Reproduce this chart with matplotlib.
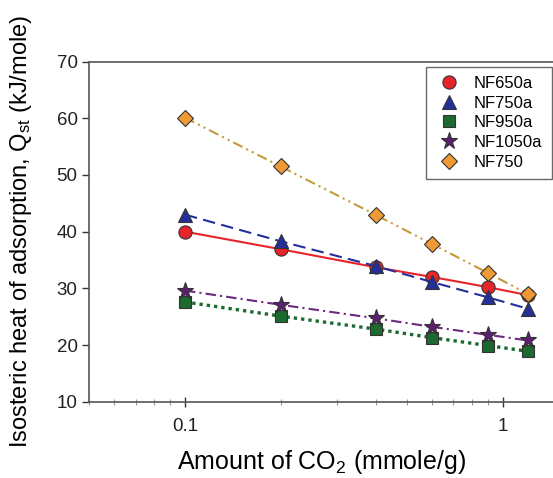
import matplotlib.pyplot as plt
from matplotlib.ticker import LogLocator, NullFormatter, FixedLocator, FixedFormatter

plt.rcParams["font.family"] = ["Liberation Sans", "DejaVu Sans"]
plt.rcParams["mathtext.fontset"] = "custom"
plt.rcParams["mathtext.rm"] = "Liberation Sans"
plt.rcParams["mathtext.it"] = "Liberation Sans:italic"

# CO2 uptake (mmole/g)
amount = [0.1, 0.2, 0.4, 0.6, 0.9, 1.2]

# isosteric heat of adsorption (kJ/mole)
nf650a = [40.0, 36.9, 33.7, 32.0, 30.2, 28.8]
nf750a = [43.0, 38.3, 33.9, 31.1, 28.4, 26.4]
nf950a = [27.6, 25.1, 22.8, 21.3, 19.9, 18.9]
nf1050a = [29.6, 27.1, 24.7, 23.2, 21.8, 20.8]
nf750 = [60.1, 51.5, 42.9, 37.8, 32.7, 29.0]

series = [
    ("NF650a", nf650a, "o", "#e8242b", "#e8242b", "-"),
    ("NF750a", nf750a, "^", "#23309a", "#23309a", (0, (6, 3))),
    ("NF950a", nf950a, "s", "#1c6a2f", "#1c6a2f", (0, (1, 1.2))),
    ("NF1050a", nf1050a, "*", "#5c1f70", "#6a2a80", (0, (5, 2, 1, 2))),
    ("NF750", nf750, "D", "#f09a35", "#c59a3c", (0, (5, 2, 1, 2, 1, 2))),
]
marker_sizes = {"o": 9.5, "^": 9.5, "s": 8.5, "*": 12.5, "D": 8}


def main():
    fig = plt.figure(figsize=(5.53, 4.78), dpi=100)
    ax = fig.add_axes([0.1615, 0.1596, 0.8385, 0.7116])

    for label, y, marker, mcolor, lcolor, ls in series:
        lw = 2.4 if label == "NF950a" else 1.5
        ax.plot(amount, y, color=lcolor, linestyle=ls, linewidth=lw)
        ax.plot(amount, y, linestyle="none", marker=marker,
                markersize=marker_sizes[marker],
                markerfacecolor=mcolor, markeredgecolor="#333333",
                markeredgewidth=0.8, label=label)

    ax.set_xscale("log")
    ax.set_xlim(0.05, 1.44)
    ax.set_ylim(10, 70)
    ax.xaxis.set_major_locator(FixedLocator([0.1, 1]))
    ax.xaxis.set_major_formatter(FixedFormatter(["0.1", "1"]))
    ax.xaxis.set_minor_locator(LogLocator(base=10, subs=range(2, 10)))
    ax.xaxis.set_minor_formatter(NullFormatter())
    ax.set_yticks([10, 20, 30, 40, 50, 60, 70])

    ax.tick_params(axis="x", which="major", direction="inout", length=7,
                   width=1, labelsize=13.5, pad=8, colors="#333333")
    ax.tick_params(axis="x", which="minor", direction="inout", length=5,
                   width=0.8, colors="#999999")
    ax.tick_params(axis="y", direction="out", length=5, width=1,
                   labelsize=13.5, colors="#333333")
    for lbl in ax.get_xticklabels() + ax.get_yticklabels():
        lbl.set_color("#222222")

    for side in ["left", "bottom", "top"]:
        ax.spines[side].set_color("#555555")
        ax.spines[side].set_linewidth(1.2)
    ax.spines["right"].set_visible(False)

    ax.set_xlabel("Amount of CO$_2$ (mmole/g)", fontsize=18)
    ax.xaxis.set_label_coords(0.5, -0.135)
    ax.set_ylabel("Isosteric heat of adsorption, Q$_\\mathrm{st}$ (kJ/mole)",
                  fontsize=17)
    ax.yaxis.set_label_coords(-0.119, 0.5)

    leg = ax.legend(loc="upper right", bbox_to_anchor=(0.997, 0.985),
                    borderaxespad=0, fontsize=12, frameon=True,
                    fancybox=False, handletextpad=0.7, labelspacing=0.28,
                    borderpad=0.55, handlelength=1.6)
    leg.get_frame().set_edgecolor("#444444")
    leg.get_frame().set_linewidth(1.0)

    fig.savefig("out.png", dpi=100)


if __name__ == "__main__":
    main()
